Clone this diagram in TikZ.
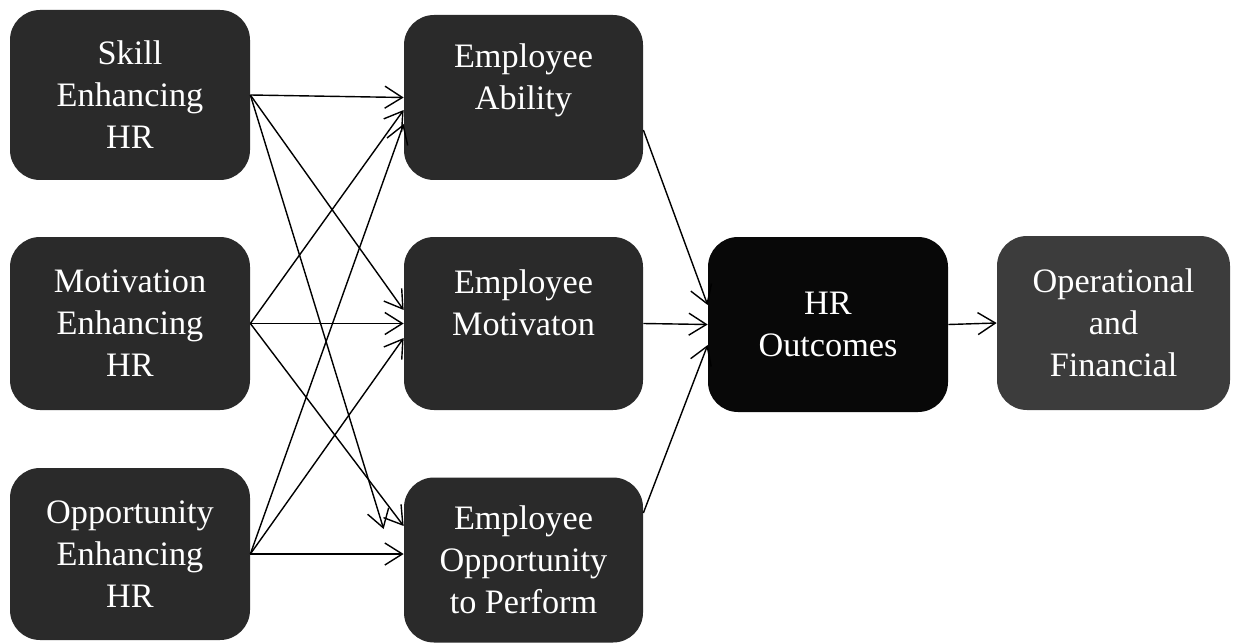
\documentclass[tikz,border=0pt]{standalone}
\usepackage{fontspec}
\setmainfont{Liberation Serif}
\usetikzlibrary{calc, positioning, arrows.meta}
\definecolor{xdark}{HTML}{2A2A2A}
\definecolor{xblack}{HTML}{080808}
\definecolor{xgray}{HTML}{3C3C3C}
\tikzset{
	hrbox/.style = {fill=#1, rounded corners=0.6cm, text=white, align=center, inner sep=0pt,
		font=\fontsize{19.5}{23.9}\selectfont},
	link/.style = {line width=0.8pt, -{Straight Barb[length=3.5mm,width=4.4mm]}},
}

\begin{document}
\begin{tikzpicture}
			\useasboundingbox (0,0) rectangle (24.72,-12.88);
			\node[hrbox={xdark}, minimum width=4.8cm, minimum height=3.4cm]  (skill) at (2.6,-1.9)   {Skill\\Enhancing\\HR};
			\node[hrbox={xdark}, minimum width=4.8cm, minimum height=3.46cm] (motiv) at (2.6,-6.47)  {Motivation\\Enhancing\\HR};
			\node[hrbox={xdark}, minimum width=4.8cm, minimum height=3.44cm] (oppor) at (2.6,-11.08) {Opportunity\\Enhancing\\HR};
			\node[hrbox={xdark}, minimum width=4.78cm, minimum height=3.3cm]  (ability) at (10.47,-1.95)  {Employee\\Ability\\\mbox{}};
			\node[hrbox={xdark}, minimum width=4.78cm, minimum height=3.46cm] (emotiv)  at (10.47,-6.47)  {Employee\\Motivaton\\\mbox{}};
			\node[hrbox={xdark}, minimum width=4.78cm, minimum height=3.3cm]  (eoppor)  at (10.47,-11.2)  {Employee\\Opportunity\\to Perform};
			\node[hrbox={xblack}, minimum width=4.8cm, minimum height=3.5cm]  (outcomes) at (16.56,-6.49) {HR\\Outcomes};
			\node[hrbox={xgray}, minimum width=4.66cm, minimum height=3.48cm] (finance)  at (22.27,-6.46) {Operational\\and\\Financial};
			\draw[link] (skill.east) -- (ability.west);
			\draw[link] (skill.east) -- ([yshift=0.27cm]emotiv.west);
			\draw[link] (skill.east) -- ([xshift=-0.4cm, yshift=0.62cm]eoppor.west);
			\draw[link] (motiv.east) -- ([yshift=-0.25cm]ability.west);
			\draw[link] (motiv.east) -- (emotiv.west);
			\draw[link] (motiv.east) -- ([yshift=0.68cm]eoppor.west);
			\draw[link] (oppor.east) -- ([yshift=-0.53cm]ability.west);
			\draw[link] (oppor.east) -- ([yshift=-0.29cm]emotiv.west);
			\draw[link] (oppor.east) -- (oppor.east -| eoppor.west);
			\draw[link] ([yshift=-0.65cm]ability.east) -- ([yshift=0.39cm]outcomes.west);
			\draw[link] (emotiv.east) -- (outcomes.west);
			\draw[link] ([yshift=0.94cm]eoppor.east) -- ([yshift=-0.41cm]outcomes.west);
			\draw[link] (outcomes.east) -- (finance.west);
		\end{tikzpicture}
\end{document}
